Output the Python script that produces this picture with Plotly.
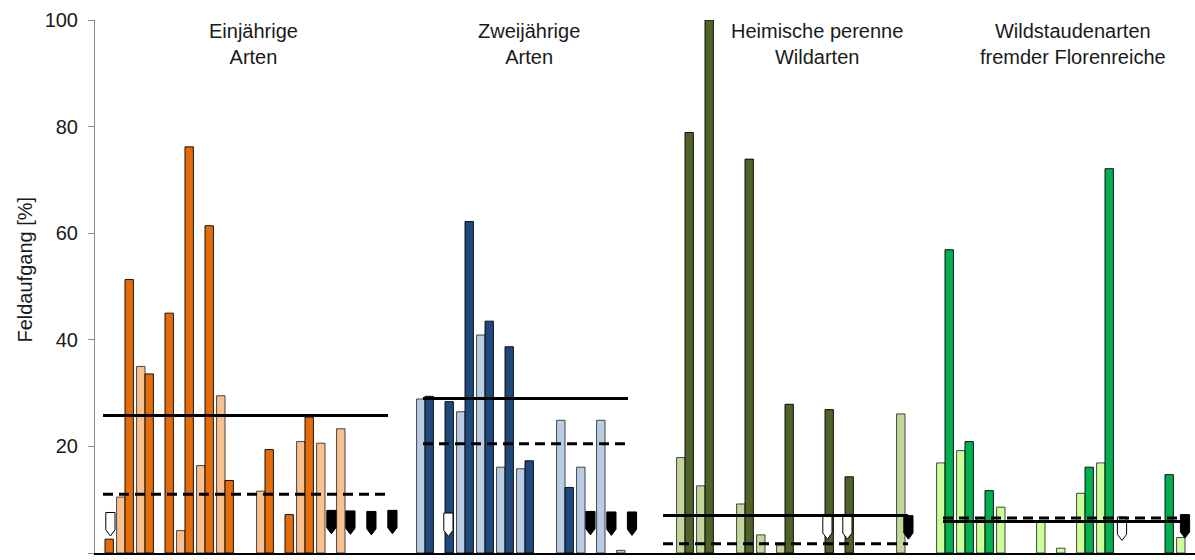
import plotly.graph_objects as go

# Artengruppen (Reihenfolge auf der x-Achse)
group_titles = [
    "Einjährige<br>Arten",
    "Zweijährige<br>Arten",
    "Heimische perenne<br>Wildarten",
    "Wildstaudenarten<br>fremder Florenreiche",
]

# Feldaufgang [%] je Art: helle Serie / dunkle Serie (None = kein Balken)
einj_light = [None, 10.5, 35.0, None, 4.2, 16.4, 29.5, None, 11.6, None, 20.9, 20.6, 23.3, None, None]
einj_dark = [2.6, 51.3, 33.6, 45.0, 76.2, 61.4, 13.6, None, 19.4, 7.2, 25.5, None, None, None, None]

zwei_light = [28.9, None, 26.5, 40.9, 16.1, 15.8, None, 24.9, 16.1, 24.9, 0.5]
zwei_dark = [29.4, 28.4, 62.2, 43.5, 38.7, 17.3, None, 12.3, None, None, None]

heim_light = [None, 17.9, 12.6, None, 9.2, 3.4, 1.5, None, None, None, None, None, 26.1]
heim_dark = [None, 78.9, 100.0, None, 73.9, None, 27.9, None, 26.9, 14.3, None, None, None]

wild_light = [16.9, 19.2, 6.6, 8.6, None, 5.9, 0.9, 11.2, 16.9, None, None, None, 2.9]
wild_dark = [56.9, 20.9, 11.7, None, None, None, None, 16.1, 72.1, None, None, 14.7, None]

# Gruppenmittelwerte (durchgezogen / gestrichelt)
mean_solid = [25.8, 29.0, 7.05, 5.9]
mean_dashed = [11.0, 20.5, 1.75, 6.55]

# Symbole für Arten ohne Feldaufgang: Position (Art-Index in der Gruppe) und Oberkante
open_marker_pos = [[0.27], [1.17], [8.12, 9.12], [8.85]]
open_marker_top = [[7.6], [7.5], [7.0, 7.0], [6.75]]
filled_marker_pos = [[11.32, 12.27, 13.32, 14.37], [8.27, 9.32, 10.35], [12.17], [12.0]]
filled_marker_top = [[8.0, 7.9, 7.8, 8.0], [7.8, 7.7, 7.7], [7.0], [7.2]]

light_series = [einj_light, zwei_light, heim_light, wild_light]
dark_series = [einj_dark, zwei_dark, heim_dark, wild_dark]

light_colors = ["#FAC090", "#B9CDE5", "#C3D69B", "#CCFF99"]
dark_colors = ["#E46C0A", "#1F497D", "#4F6228", "#00B050"]

FONT = "Liberation Sans, Arial, sans-serif"
BAR_W = 0.42

# Startposition jeder Gruppe: eine leere Kategorie als Abstand
starts = []
pos = 0
for lt in light_series:
    starts.append(pos)
    pos += len(lt) + 1
last_slot = starts[-1] + len(light_series[-1]) - 1

fig = go.Figure()

for g, (lt, dk) in enumerate(zip(light_series, dark_series)):
    xs = [starts[g] + i for i in range(len(lt))]
    fig.add_trace(go.Bar(
        x=xs, y=lt, offset=-BAR_W, width=BAR_W,
        marker=dict(color=light_colors[g], line=dict(color="rgba(40,40,40,0.85)", width=1)),
        showlegend=False, hoverinfo="y",
    ))
    fig.add_trace(go.Bar(
        x=xs, y=dk, offset=0, width=BAR_W,
        marker=dict(color=dark_colors[g], line=dict(color="rgba(0,0,0,0.9)", width=1)),
        showlegend=False, hoverinfo="y",
    ))


def pointer_shapes(positions, tops):
    """Nach unten zeigende Fünfecke, als Polygone in Datenkoordinaten."""
    w, h, tip = 0.46, 4.4, 1.15
    xs, ys = [], []
    for g, (plist, tlist) in enumerate(zip(positions, tops)):
        for p, t in zip(plist, tlist):
            c = starts[g] + p
            xs += [c - w / 2, c + w / 2, c + w / 2, c, c - w / 2, c - w / 2, None]
            ys += [t, t, t - h + tip, t - h, t - h + tip, t, None]
    return xs, ys


ox, oy = pointer_shapes(open_marker_pos, open_marker_top)
fig.add_trace(go.Scatter(x=ox, y=oy, mode="lines", fill="toself", fillcolor="white",
                         line=dict(color="black", width=1), showlegend=False, hoverinfo="skip"))
fx, fy = pointer_shapes(filled_marker_pos, filled_marker_top)
fig.add_trace(go.Scatter(x=fx, y=fy, mode="lines", fill="toself", fillcolor="black",
                         line=dict(color="black", width=1), showlegend=False, hoverinfo="skip"))

# Mittelwertlinien je Gruppe
for g, lt in enumerate(light_series):
    x0, x1 = starts[g] - 0.1, starts[g] + len(lt) - 1 + 0.15
    fig.add_trace(go.Scatter(x=[x0, x1], y=[mean_solid[g]] * 2, mode="lines",
                             line=dict(color="black", width=3), showlegend=False, hoverinfo="y"))
    fig.add_trace(go.Scatter(x=[x0, x1], y=[mean_dashed[g]] * 2, mode="lines",
                             line=dict(color="black", width=3, dash="10px,6px"),
                             showlegend=False, hoverinfo="y"))

# Gruppenüberschriften
title_x = [7.4, 21.2, 35.6, 48.4]
for g, t in enumerate(group_titles):
    fig.add_annotation(x=title_x[g], xref="x", y=1.004, yref="paper", yanchor="top",
                       text=t, showarrow=False, align="center",
                       font=dict(family=FONT, size=20, color="#1a1a1a"))

fig.add_annotation(x=-0.064, xref="paper", y=0.531, yref="paper", text="Feldaufgang [%]",
                   textangle=-90, showarrow=False, xanchor="center", yanchor="middle",
                   font=dict(family=FONT, size=20, color="#1a1a1a"))

fig.update_layout(
    width=1195, height=560,
    margin=dict(l=95, r=0, t=20, b=7),
    paper_bgcolor="white", plot_bgcolor="white",
    barmode="overlay",
    showlegend=False,
    xaxis=dict(range=[-0.5, last_slot + 0.5], showticklabels=False, ticks="",
               showgrid=False, zeroline=False, showline=True, linecolor="black", linewidth=1.5),
    yaxis=dict(range=[0, 100], tickvals=[0, 20, 40, 60, 80, 100], ticks="outside", ticklen=6,
               tickcolor="#8a8a8a", showline=True, linecolor="#8a8a8a", linewidth=1,
               showgrid=False, zeroline=False, ticklabelstandoff=6,
               tickfont=dict(family=FONT, size=20, color="#1a1a1a")),
)

fig.write_html("out.html")
